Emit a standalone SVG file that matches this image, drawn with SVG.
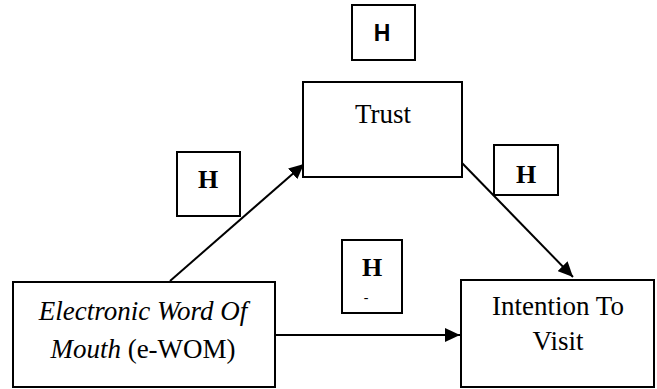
<svg xmlns="http://www.w3.org/2000/svg" width="657" height="389" viewBox="0 0 657 389">
<defs>
<style>
.box{fill:#fff;stroke:#000;stroke-width:2}
.t{font-family:"Liberation Serif","Times New Roman",serif;font-size:27px;fill:#000;text-anchor:middle}
.h{font-family:"Liberation Serif","Times New Roman",serif;font-size:26px;font-weight:bold;fill:#000;text-anchor:middle}
.hs{font-family:"Liberation Sans",Arial,sans-serif;font-size:23px;font-weight:bold;fill:#000;text-anchor:middle}
.c{stroke:#000;stroke-width:2;fill:none}
</style>
<marker id="ah" viewBox="0 0 15 14" refX="15" refY="7" markerWidth="15" markerHeight="14" markerUnits="userSpaceOnUse" orient="auto">
<path d="M0,0 L15,7 L0,14 Z" fill="#000"/>
</marker>
</defs>
<rect width="657" height="389" fill="#fff"/>
<g id="connectors">
<line class="c" x1="170" y1="281" x2="304" y2="164" marker-end="url(#ah)"/>
<line class="c" x1="462" y1="163" x2="573" y2="277" marker-end="url(#ah)"/>
<line class="c" x1="275" y1="335" x2="460" y2="335" marker-end="url(#ah)"/>
</g>
<g id="h-top">
<rect class="box" x="352" y="5" width="63" height="55"/>
<text class="hs" x="382" y="41">H</text>
</g>
<g id="trust">
<rect class="box" x="303" y="82" width="159" height="95"/>
<text class="t" x="383" y="123">Trust</text>
</g>
<g id="h-left">
<rect class="box" x="177" y="152" width="63" height="64"/>
<text class="h" x="208" y="188">H</text>
</g>
<g id="h-right">
<rect class="box" x="494" y="145" width="64" height="50"/>
<text class="h" x="526" y="183">H</text>
</g>
<g id="h-mid">
<rect class="box" x="342" y="240" width="60" height="73"/>
<text class="h" x="372" y="276">H</text>
<text class="h" x="366" y="302" style="font-size:14px;font-weight:normal">-</text>
</g>
<g id="ewom">
<rect class="box" x="13" y="282" width="262" height="105"/>
<text class="t" x="143" y="320"><tspan font-style="italic">Electronic Word Of</tspan></text>
<text class="t" x="143" y="358"><tspan font-style="italic">Mouth</tspan> (e-WOM)</text>
</g>
<g id="intention">
<rect class="box" x="461" y="280" width="193" height="107"/>
<text class="t" x="558" y="315">Intention To</text>
<text class="t" x="558" y="350">Visit</text>
</g>
</svg>
